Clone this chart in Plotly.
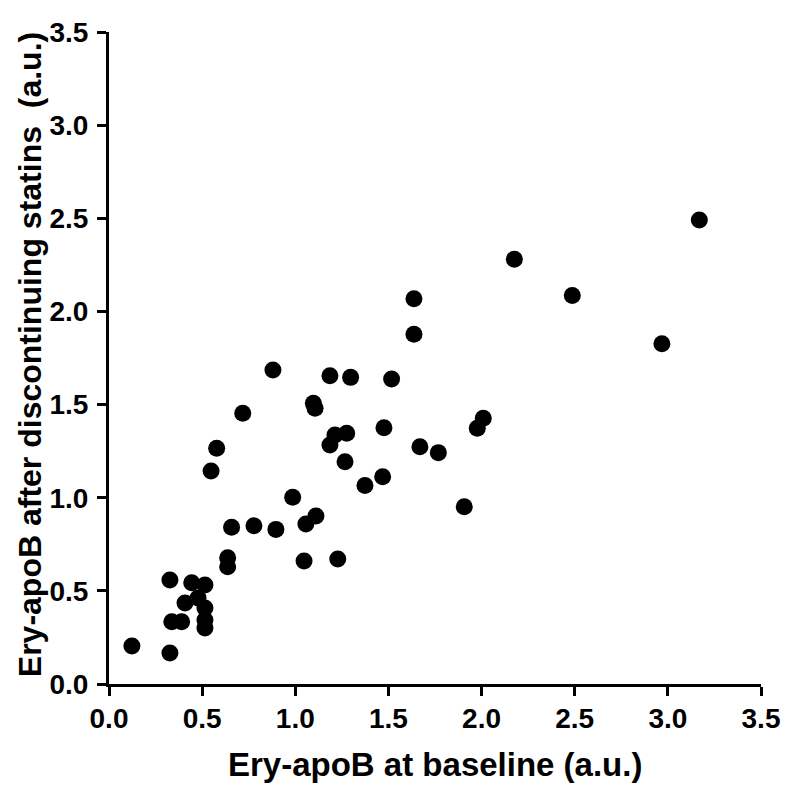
import plotly.graph_objects as go

baseline = [0.123, 0.327, 0.327, 0.444, 0.515, 0.408, 0.478, 0.515, 0.337, 0.390,
            0.515, 0.515, 0.548, 0.578, 0.718, 0.880, 0.637, 0.637, 0.658, 0.778,
            0.896, 0.986, 1.057, 1.111, 1.047, 1.228, 1.097, 1.106, 1.186, 1.297,
            1.186, 1.213, 1.276, 1.267, 1.374, 1.469, 1.476, 1.517, 1.637, 1.637,
            1.669, 1.768, 1.907, 1.977, 2.009, 2.176, 2.487, 2.968, 3.169]
after = [0.204, 0.166, 0.558, 0.544, 0.531, 0.435, 0.462, 0.408, 0.334, 0.334,
         0.343, 0.300, 1.143, 1.265, 1.453, 1.686, 0.678, 0.630, 0.841, 0.850,
         0.830, 1.002, 0.859, 0.902, 0.660, 0.671, 1.507, 1.480, 1.655, 1.646,
         1.283, 1.337, 1.346, 1.193, 1.065, 1.113, 1.376, 1.637, 2.068, 1.877,
         1.274, 1.242, 0.952, 1.373, 1.426, 2.280, 2.086, 1.827, 2.491]
tick_vals = [0.0, 0.5, 1.0, 1.5, 2.0, 2.5, 3.0, 3.5]
tick_text = ["0.0", "0.5", "1.0", "1.5", "2.0", "2.5", "3.0", "3.5"]

x_title = "Ery-apoB at baseline (a.u.)"
y_title = "Ery-apoB after discontinuing statins\u00a0 (a.u.)"

fig = go.Figure()
fig.add_trace(go.Scatter(
    x=baseline, y=after, mode="markers",
    marker=dict(color="black", size=17, line=dict(width=0)),
    cliponaxis=False, showlegend=False,
))

font_family = "Liberation Sans, Arial, sans-serif"
axis_common = dict(
    range=[0, 3.5], tickmode="array", tickvals=tick_vals, ticktext=tick_text,
    showline=True, linecolor="black", linewidth=3,
    ticks="outside", ticklen=9, tickwidth=3, tickcolor="black",
    showgrid=False, zeroline=False, mirror=False, automargin=False,
    tickfont=dict(family=font_family, size=28, color="black", weight="bold"),
)

fig.update_layout(
    width=782, height=779,
    margin=dict(l=101, r=29, t=24, b=103),
    paper_bgcolor="white", plot_bgcolor="white",
    xaxis=dict(**axis_common, ticklabelstandoff=-2),
    yaxis=dict(**axis_common, ticklabelstandoff=3),
    annotations=[
        dict(text=x_title, xref="paper", yref="paper", x=0.5, y=-0.124,
             xanchor="center", yanchor="middle", showarrow=False,
             font=dict(family=font_family, size=33, color="black", weight="bold")),
        dict(text=y_title, xref="paper", yref="paper", x=-0.122, y=0.505,
             xanchor="center", yanchor="middle", showarrow=False, textangle=-90,
             font=dict(family=font_family, size=32, color="black", weight="bold")),
    ],
)

fig.write_html("out.html")
